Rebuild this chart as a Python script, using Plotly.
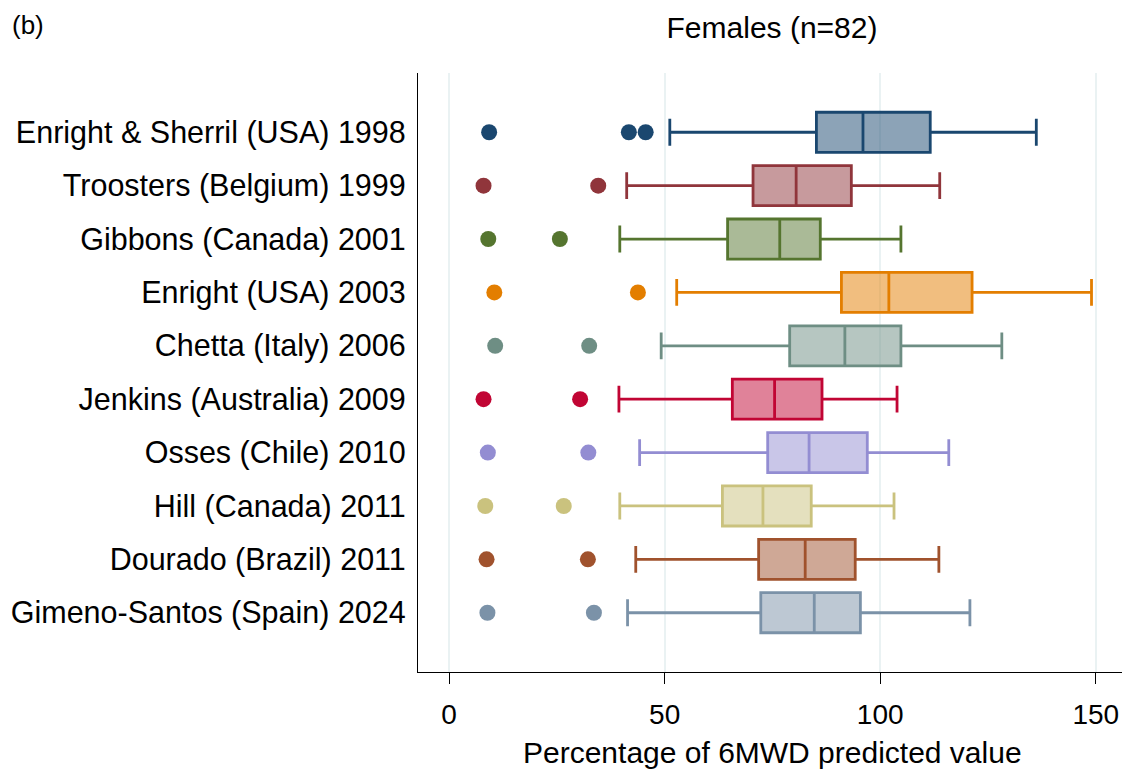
import plotly.graph_objects as go

categories = [
    "Enright & Sherril (USA) 1998",
    "Troosters (Belgium) 1999",
    "Gibbons (Canada) 2001",
    "Enright (USA) 2003",
    "Chetta (Italy) 2006",
    "Jenkins (Australia) 2009",
    "Osses (Chile) 2010",
    "Hill (Canada) 2011",
    "Dourado (Brazil) 2011",
    "Gimeno-Santos (Spain) 2024",
]
lower_whisker = [51.2, 41.2, 39.6, 52.8, 49.2, 39.4, 44.2, 39.6, 43.3, 41.4]
q1_vals = [85.2, 70.5, 64.6, 91.0, 79.0, 65.7, 73.9, 63.4, 71.8, 72.3]
median_vals = [96.0, 80.5, 76.7, 102.0, 91.8, 75.5, 83.5, 72.8, 82.6, 84.7]
q3_vals = [111.6, 93.3, 86.1, 121.3, 104.8, 86.5, 97.0, 84.0, 94.2, 95.4]
upper_whisker = [136.2, 113.8, 104.8, 149.0, 128.2, 103.9, 115.9, 103.2, 113.6, 120.8]
outliers = [
    [9.3, 41.7, 45.6],
    [8.0, 34.6],
    [9.1, 25.7],
    [10.5, 43.8],
    [10.7, 32.5],
    [8.0, 30.4],
    [9.0, 32.3],
    [8.4, 26.6],
    [8.7, 32.2],
    [8.9, 33.6],
]
colors = ["#1a476f", "#90353b", "#55752f", "#e37e00", "#6e8e84",
          "#c10534", "#938dd2", "#cac27e", "#a0522d", "#7b92a8"]
x_ticks = [0, 50, 100, 150]


def rgba(hexc, a):
    h = hexc.lstrip("#")
    r, g, b = int(h[0:2], 16), int(h[2:4], 16), int(h[4:6], 16)
    return f"rgba({r},{g},{b},{a})"


fig = go.Figure()
for i, cat in enumerate(categories):
    c = colors[i]
    fig.add_trace(go.Box(
        y=[i], orientation="h",
        q1=[q1_vals[i]], median=[median_vals[i]], q3=[q3_vals[i]],
        lowerfence=[lower_whisker[i]], upperfence=[upper_whisker[i]],
        width=0.75, whiskerwidth=0.67,
        line=dict(color=c, width=2.8),
        fillcolor=rgba(c, 0.5),
        boxpoints=False, showlegend=False, hoverinfo="skip",
        name=cat,
    ))
    fig.add_trace(go.Scatter(
        x=outliers[i], y=[i] * len(outliers[i]), mode="markers",
        marker=dict(color=c, size=16, line=dict(width=0)),
        showlegend=False, hoverinfo="skip",
    ))

# page body has an 8px margin; figure coordinates are offset by it
OFF = 8
W, H = 1130 - OFF, 776 - OFF
L, R, T, B = 418 - OFF, 1126 - OFF, 73 - OFF, 672 - OFF
font = "Liberation Sans, Arial, Helvetica, sans-serif"

fig.update_layout(
    width=W, height=H,
    margin=dict(l=L, r=W - R, t=T, b=H - B, autoexpand=False),
    paper_bgcolor="white", plot_bgcolor="white",
    font=dict(family=font, size=30, color="black"),
    title=dict(text="Females (n=82)", x=0.5, xref="paper", xanchor="center",
               y=1 - (27 - OFF) / H, yref="container", yanchor="middle",
               font=dict(size=30, color="black")),
    xaxis=dict(range=[-7.2, 157.0], tickvals=x_ticks, ticktext=[str(v) for v in x_ticks],
               showgrid=True, gridcolor="#eaf2f3", gridwidth=2,
               showline=True, linecolor="black", linewidth=1.3,
               ticks="outside", ticklen=11, tickwidth=1.3, tickcolor="black",
               ticklabelstandoff=6,
               zeroline=False, tickfont=dict(size=28)),
    yaxis=dict(range=[10.11, -1.11], tickvals=list(range(len(categories))),
               ticktext=categories, showgrid=False, zeroline=False,
               showline=True, linecolor="black", linewidth=1.3,
               ticks="", ticklabelstandoff=5, tickfont=dict(size=30.5)),
    annotations=[
        dict(text="(b)", xref="paper", yref="paper",
             x=(2 - L) / (R - L), y=(B - 17) / (B - T),
             xanchor="left", yanchor="middle", showarrow=False,
             font=dict(size=26, color="black")),
        dict(text="Percentage of 6MWD predicted value", xref="paper", yref="paper",
             x=0.5, y=(B - (752 - OFF)) / (B - T), xanchor="center", yanchor="middle",
             showarrow=False, font=dict(size=30, color="black")),
    ],
)

fig.write_html("out.html")
